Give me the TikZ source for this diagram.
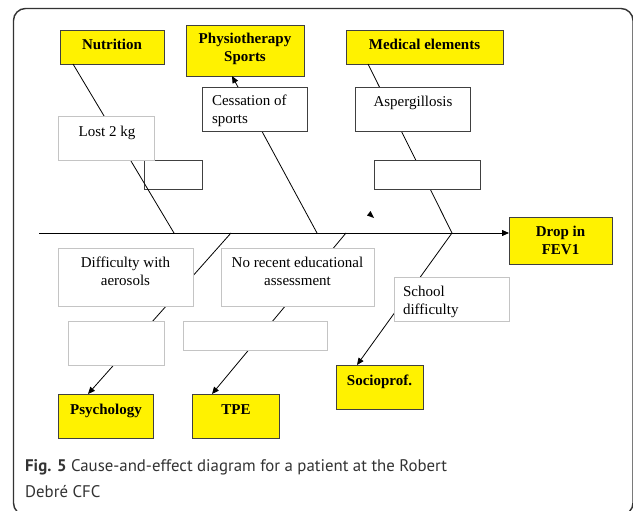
\documentclass[tikz,border=0pt]{standalone}
\usepackage{fontspec}
\setmainfont{Liberation Serif}
\newfontfamily\capfont{PT Sans}
\usetikzlibrary{arrows.meta,calc}
\newcommand{\clines}[1]{\begin{tabular}[t]{@{}c@{}}#1\end{tabular}}
\newcommand{\llines}[1]{\begin{tabular}[t]{@{}l@{}}#1\end{tabular}}
\definecolor{capgray}{HTML}{333333}
\definecolor{lightbord}{HTML}{C4C4C4}
\definecolor{darkbord}{HTML}{404040}
\begin{document}
\begin{tikzpicture}[x=1pt,y=-1pt,
  ybox/.style={draw=darkbord, fill=yellow, line width=0.9pt, inner sep=0pt, outer sep=0pt},
  dbox/.style={draw=darkbord, fill=white, line width=0.8pt, inner sep=0pt, outer sep=0pt},
  lbox/.style={draw=lightbord, fill=white, line width=0.8pt, inner sep=0pt, outer sep=0pt},
  lbl/.style={inner sep=0pt, outer sep=0pt, anchor=base, font=\fontsize{15}{18}\selectfont},
  bone/.style={draw=black, line width=0.8pt},
  tip/.style={-{Triangle[length=7pt,width=6pt]}}]
\useasboundingbox (0,0) rectangle (633,511);
\begin{scope}
\clip (0,0) rectangle (633,511);
\draw[capgray, line width=1.4pt, rounded corners=12pt] (13.5,8.5) rectangle (633,515);
\end{scope}

% yellow boxes
\node[ybox, minimum width=104, minimum height=34] (nut) at (112,47) {};
\node[ybox, minimum width=118, minimum height=51] (phy) at (245,50.5) {};
\node[ybox, minimum width=157, minimum height=34] (med) at (424.5,47) {};
\node[ybox, minimum width=103, minimum height=47] (fev) at (560.5,240.5) {};
\node[ybox, minimum width=95, minimum height=44] (psy) at (105.5,416) {};
\node[ybox, minimum width=87, minimum height=44] (tpe) at (235.5,416) {};
\node[ybox, minimum width=87, minimum height=44] (soc) at (379.5,387) {};

% small box crossed by the nutrition bone
\node[draw=darkbord, line width=0.8pt, inner sep=0pt, minimum width=58, minimum height=29] (sm1) at (173,174.5) {};

% spine
\coordinate (spL) at (39,233);
\draw[bone, tip] (spL) -- (spL -| fev.west);

% bones
\coordinate (jn) at (174,233);
\coordinate (jp) at (317,233);
\coordinate (jm) at (452,233);
\coordinate (jy) at (231,233);
\coordinate (jt) at (346,233);
\draw[bone] ($(nut.south west)+(13,0)$) -- (jn);
\draw[bone, tip] (jp) -- ($(phy.south west)+(46,0)$);
\draw[bone] ($(med.south west)+(22,0)$) -- (jm);
\draw[bone, tip] (jy) -- ($(psy.north west)+(30,0)$);
\draw[bone, tip] (jt) -- ($(tpe.north west)+(20,0)$);
\draw[bone, tip] (jm) -- ($(soc.north west)+(21,0)$);

% white boxes
\node[lbox, minimum width=96, minimum height=44] (lost) at (106,138) {};
\node[dbox, minimum width=105, minimum height=44] (ces) at (254.5,109) {};
\node[dbox, minimum width=115, minimum height=44] (asp) at (412.5,109) {};
\node[dbox, minimum width=106, minimum height=29] (sm2) at (427,174.5) {};
\node[lbox, minimum width=135, minimum height=58] (dif) at (125.5,277) {};
\node[lbox, minimum width=153, minimum height=58] (nor) at (297.5,277) {};
\node[lbox, minimum width=96, minimum height=44] (sm3) at (116,343) {};
\node[lbox, minimum width=144, minimum height=29] (sm4) at (255,335.5) {};
\node[lbox, minimum width=115, minimum height=44] (sch) at (451.5,299) {};

% stray arrowhead
\fill[black] (370.5,211) -- (367,215.5) -- (374,218) -- cycle;

% labels
\node[lbl] (nut-t) at (112,50) {\bfseries Nutrition};
\node[lbl] (phy-t) at (245,44) {\bfseries\clines{Physiotherapy\\Sports}};
\node[lbl] (med-t) at (424.5,49.5) {\bfseries Medical elements};
\node[lbl] (fev-t) at (560.5,236.5) {\bfseries\clines{Drop in\\FEV1}};
\node[lbl] (psy-t) at (106,414) {\bfseries Psychology};
\node[lbl] (tpe-t) at (236,414) {\bfseries TPE};
\node[lbl] (soc-t) at (379.5,385) {\bfseries Socioprof.};
\node[lbl] (lost-t) at (107,136) {Lost 2 kg};
\node[lbl, anchor=base west] (ces-t) at (212,106) {\llines{Cessation of\\sports}};
\node[lbl] (asp-t) at (413,107) {Aspergillosis};
\node[lbl] (dif-t) at (125.5,267) {\clines{Difficulty with\\aerosols}};
\node[lbl] (nor-t) at (297.5,267) {\clines{No recent educational\\assessment}};
\node[lbl, anchor=base west] (sch-t) at (403,296) {\llines{School\\difficulty}};

% caption
\node[inner sep=0pt, anchor=base west, text=capgray, font=\capfont\fontsize{16.8}{26.7}\selectfont] (cap) at (25,471)
  {\llines{\textbf{Fig. 5} Cause-and-effect diagram for a patient at the Robert\\Debré CFC}};
\end{tikzpicture}
\end{document}
